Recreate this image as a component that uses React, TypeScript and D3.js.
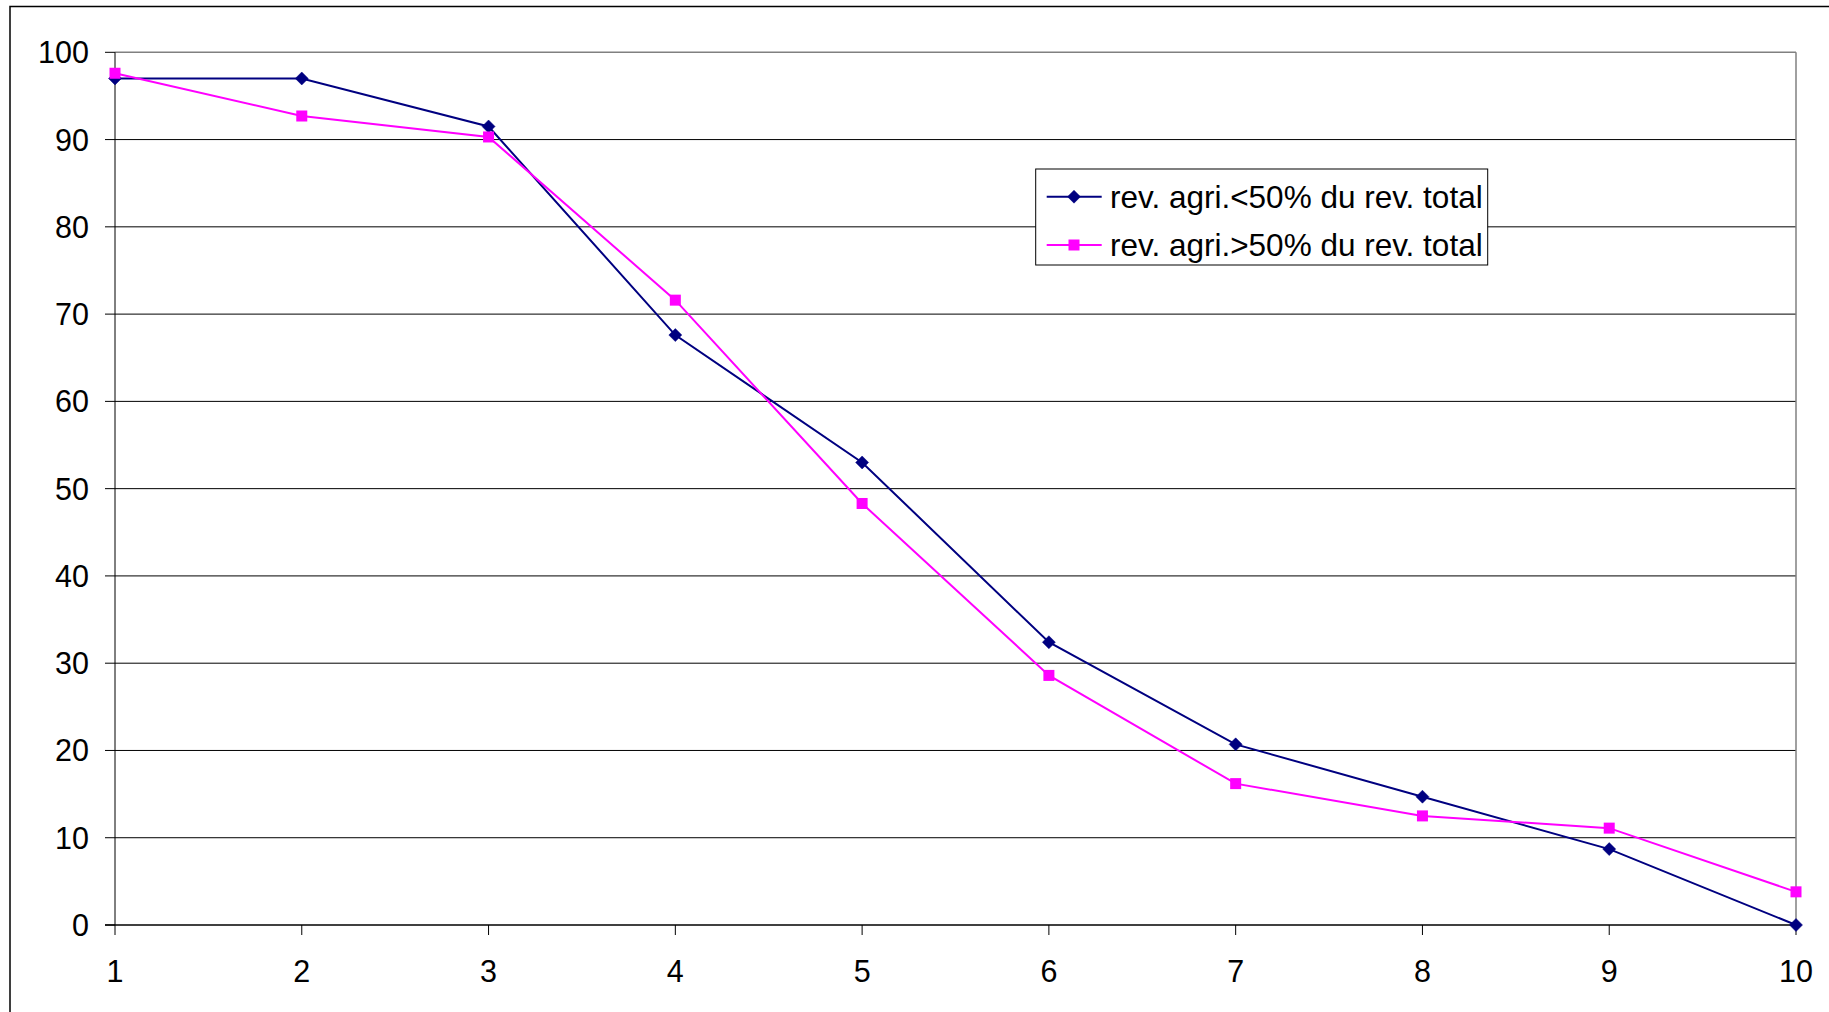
import React from "react";
import * as d3 from "d3";

// Deciles 1..10 on the x axis
const categories: number[] = [1, 2, 3, 4, 5, 6, 7, 8, 9, 10];

// Share (%) for farms where agricultural income is under half of total income
const seriesBelow50: number[] = [97.0, 97.0, 91.5, 67.6, 53.0, 32.4, 20.7, 14.7, 8.7, 0.0];
// Share (%) for farms where agricultural income is over half of total income
const seriesAbove50: number[] = [97.6, 92.7, 90.3, 71.6, 48.3, 28.6, 16.2, 12.5, 11.1, 3.8];

const yTicks: number[] = [0, 10, 20, 30, 40, 50, 60, 70, 80, 90, 100];

const legendLabels: string[] = [
  "rev. agri.<50% du rev. total",
  "rev. agri.>50% du rev. total",
];

const NAVY = "#000080";
const MAGENTA = "#FF00FF";
const FONT = "Arial, 'Liberation Sans', Helvetica, sans-serif";

const W = 1829;
const H = 1012;
const plot = { left: 115, right: 1796, top: 52.3, bottom: 925 };

export default function App() {
  const x = d3.scaleLinear().domain([1, 10]).range([plot.left, plot.right]);
  const y = d3.scaleLinear().domain([0, 100]).range([plot.bottom, plot.top]);

  const line = d3
    .line<number>()
    .x((_, i) => x(categories[i]))
    .y((d) => y(d));

  const diamond = (cx: number, cy: number, r: number) =>
    `M${cx},${cy - r}L${cx + r},${cy}L${cx},${cy + r}L${cx - r},${cy}Z`;

  const series = [
    { values: seriesBelow50, color: NAVY, marker: "diamond" },
    { values: seriesAbove50, color: MAGENTA, marker: "square" },
  ];

  const drawMarker = (kind: string, cx: number, cy: number, color: string, key: string) =>
    kind === "diamond" ? (
      <path key={key} d={diamond(cx, cy, 6.5)} fill={color} stroke={color} strokeWidth={0.5} />
    ) : (
      <rect key={key} x={cx - 5.5} y={cy - 5.5} width={11} height={11} fill={color} />
    );

  const legend = { x: 1035.7, y: 169, w: 452, h: 96 };
  const legendRows = [196.7, 245];

  return (
    <svg
      width={W}
      height={H}
      style={{ position: "fixed", left: 0, top: 0, background: "#fff" }}
      fontFamily={FONT}
    >
      <rect x={0} y={0} width={W} height={H} fill="#fff" />
      {/* chart area frame, running off the right and bottom edges */}
      <rect x={10} y={6.5} width={W + 20} height={H + 20} fill="none" stroke="#000" strokeWidth={1.5} />

      {/* horizontal gridlines */}
      {yTicks
        .filter((t) => t !== 0 && t !== 100)
        .map((t) => (
          <line key={`g${t}`} x1={plot.left} x2={plot.right} y1={y(t)} y2={y(t)} stroke="#000" strokeWidth={1} />
        ))}

      {/* plot area border top and right */}
      <line x1={plot.left} x2={plot.right} y1={y(100)} y2={y(100)} stroke="#808080" strokeWidth={1.5} />
      <line x1={plot.right} x2={plot.right} y1={y(100)} y2={y(0)} stroke="#808080" strokeWidth={1.5} />

      {/* y axis */}
      <line x1={plot.left} x2={plot.left} y1={y(100)} y2={y(0)} stroke="#000" strokeWidth={1} />
      {yTicks.map((t) => (
        <g key={`yt${t}`}>
          <line x1={plot.left - 10} x2={plot.left} y1={y(t)} y2={y(t)} stroke="#000" strokeWidth={1} />
          <text x={89} y={y(t)} textAnchor="end" dominantBaseline="central" fontSize={30.5} fill="#000">
            {t}
          </text>
        </g>
      ))}

      {/* x axis */}
      <line x1={plot.left - 10} x2={plot.right} y1={y(0)} y2={y(0)} stroke="#000" strokeWidth={1.5} />
      {categories.map((c) => (
        <g key={`xt${c}`}>
          <line x1={x(c)} x2={x(c)} y1={y(0)} y2={y(0) + 10} stroke="#000" strokeWidth={1} />
          <text x={x(c)} y={982} textAnchor="middle" fontSize={30.5} fill="#000">
            {c}
          </text>
        </g>
      ))}

      {/* series */}
      {series.map((s, si) => (
        <g key={`s${si}`}>
          <path d={line(s.values) ?? ""} fill="none" stroke={s.color} strokeWidth={2} />
          {s.values.map((v, i) => drawMarker(s.marker, x(categories[i]), y(v), s.color, `m${si}-${i}`))}
        </g>
      ))}

      {/* legend */}
      <rect x={legend.x} y={legend.y} width={legend.w} height={legend.h} fill="#fff" stroke="#000" strokeWidth={1} />
      {series.map((s, si) => (
        <g key={`l${si}`}>
          <line x1={1046.7} x2={1101.7} y1={legendRows[si]} y2={legendRows[si]} stroke={s.color} strokeWidth={2} />
          {drawMarker(s.marker, 1074, legendRows[si], s.color, `lm${si}`)}
          <text x={1110} y={legendRows[si]} dominantBaseline="central" fontSize={31.5} fill="#000">
            {legendLabels[si]}
          </text>
        </g>
      ))}
    </svg>
  );
}
